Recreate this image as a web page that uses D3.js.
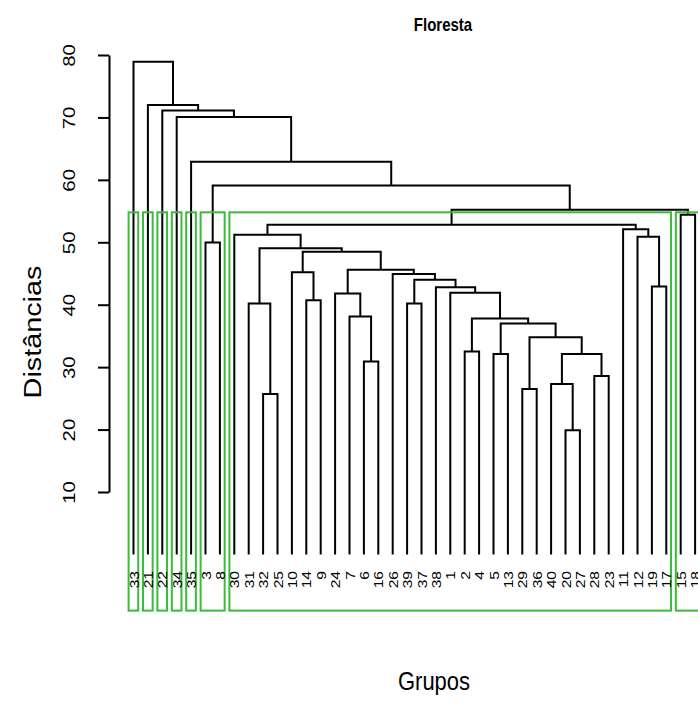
<!DOCTYPE html>
<html>
<head>
<meta charset="utf-8">
<script src="https://cdn.jsdelivr.net/npm/d3@7"></script>
<style>
  body { margin: 0; background: #fff; }
  svg text { font-family: "Liberation Sans", Arial, sans-serif; fill: #000; }
</style>
</head>
<body>
<svg id="chart" width="698" height="708"></svg>
<script>
// leaf labels, in the order they appear along the x axis
const leafLabels = [33, 21, 22, 34, 35, 3, 8, 30, 31, 32, 25, 10, 14, 9, 24, 7, 6, 16, 26, 39,
  37, 38, 1, 2, 4, 5, 13, 29, 36, 40, 20, 27, 28, 23, 11, 12, 19, 17, 15, 18];

// merges (hclust style): negative = leaf position, positive = earlier merge row
const mergeLeft = [-31, -10, -28, -30, -33, -17, -26, 4, -24, 3, 7, 9, -16, -9, -20, -13, -15, -23, -22, -37,
  15, -19, -12, 17, 23, 14, -6, -36, -8, -35, 29, -39, 31, 27, -5, -4, -3, -2, -1];
const mergeRight = [-32, -11, -29, 1, -34, -18, -27, 5, -25, 8, 10, 11, 6, 2, -21, -14, 13, 12, 18, -38,
  19, 21, 16, 22, 24, 25, -7, 20, 26, 28, 30, -40, 32, 33, 34, 35, 36, 37, 38];
const mergeHeights = [19.9, 25.7, 26.5, 27.3, 28.6, 30.9, 32.1, 32.1, 32.5, 34.8, 37.0, 37.8, 38.1, 40.2, 40.2, 40.7, 41.8, 41.9, 42.8, 42.9,
  44.0, 44.9, 45.2, 45.6, 48.5, 49.05, 49.95, 50.9, 51.2, 52.1, 52.8, 54.4, 55.2, 59.1, 62.9, 70.05, 71.1, 72.0, 78.9];

// rect.hclust(k = 8): cluster sizes from left to right
const clusterSizes = [1, 1, 1, 1, 1, 2, 31, 2];
const yTicks = [10, 20, 30, 40, 50, 60, 70, 80];

const svg = d3.select('#chart');
const n = leafLabels.length;
const x = d3.scaleLinear().domain([1, n]).range([133.5, 695.1]);
const y = d3.scaleLinear().domain([10, 80]).range([492, 55]);
const yBottom = -9;   // lower limit of the plot region
const stretch = 1.2;  // the picture is a bit taller than wide

// node positions
const nodeX = [], nodeH = [];
const childX = c => c < 0 ? x(-c) : nodeX[c - 1];
const childH = c => c < 0 ? 0 : nodeH[c - 1];
mergeHeights.forEach((h, i) => {
  nodeX.push((childX(mergeLeft[i]) + childX(mergeRight[i])) / 2);
  nodeH.push(h);
});

// dendrogram
svg.append('g')
  .selectAll('path')
  .data(mergeHeights)
  .join('path')
    .attr('fill', 'none')
    .attr('stroke', '#000')
    .attr('stroke-width', 2)
    .attr('d', (h, i) => {
      const l = mergeLeft[i], r = mergeRight[i];
      return `M${childX(l)},${y(childH(l))}V${y(h)}H${childX(r)}V${y(childH(r))}`;
    });

// cut rectangles
const sorted = mergeHeights.slice().sort((a, b) => b - a);
const k = clusterSizes.length;
const cutH = (sorted[k - 2] + sorted[k - 1]) / 2;
let start = 0;
const boxes = clusterSizes.map(s => {
  const b = {from: start + 1, to: start + s};
  start += s;
  return b;
});
svg.append('g')
  .selectAll('rect')
  .data(boxes)
  .join('rect')
    .attr('x', d => x(d.from - 0.34))
    .attr('y', y(cutH))
    .attr('width', d => x(d.to + 0.33) - x(d.from - 0.34))
    .attr('height', y(yBottom) - y(cutH))
    .attr('fill', 'none')
    .attr('stroke', '#3cba3c')
    .attr('stroke-width', 2);

// leaf labels
svg.append('g')
  .selectAll('text')
  .data(leafLabels)
  .join('text')
    .attr('transform', (d, i) => `translate(${x(i + 1) + 5},571) scale(1,${stretch}) rotate(-90)`)
    .attr('text-anchor', 'end')
    .attr('font-size', 13)
    .text(d => d);

// y axis
const axis = svg.append('g')
  .attr('transform', 'translate(109,0)')
  .call(d3.axisLeft(y).tickValues(yTicks).tickSize(11).tickSizeOuter(0));
axis.select('.domain').attr('stroke', '#000').attr('stroke-width', 2);
axis.selectAll('.tick line').attr('stroke', '#000').attr('stroke-width', 2);
axis.selectAll('.tick text')
  .attr('x', null).attr('dy', null)
  .attr('text-anchor', 'middle')
  .attr('font-size', 17)
  .attr('transform', `translate(-34,0) scale(1,${stretch}) rotate(-90)`);

// titles
svg.append('text')
  .attr('transform', `translate(443,31) scale(1,${stretch})`)
  .attr('text-anchor', 'middle')
  .attr('font-size', 15)
  .attr('font-weight', 'bold')
  .text('Floresta');

svg.append('text')
  .attr('transform', `translate(434,690) scale(1,${stretch})`)
  .attr('text-anchor', 'middle')
  .attr('font-size', 22)
  .text('Grupos');

svg.append('text')
  .attr('transform', `translate(41,332) scale(1,${stretch}) rotate(-90)`)
  .attr('text-anchor', 'middle')
  .attr('font-size', 24)
  .text('Distâncias');
</script>
</body>
</html>
